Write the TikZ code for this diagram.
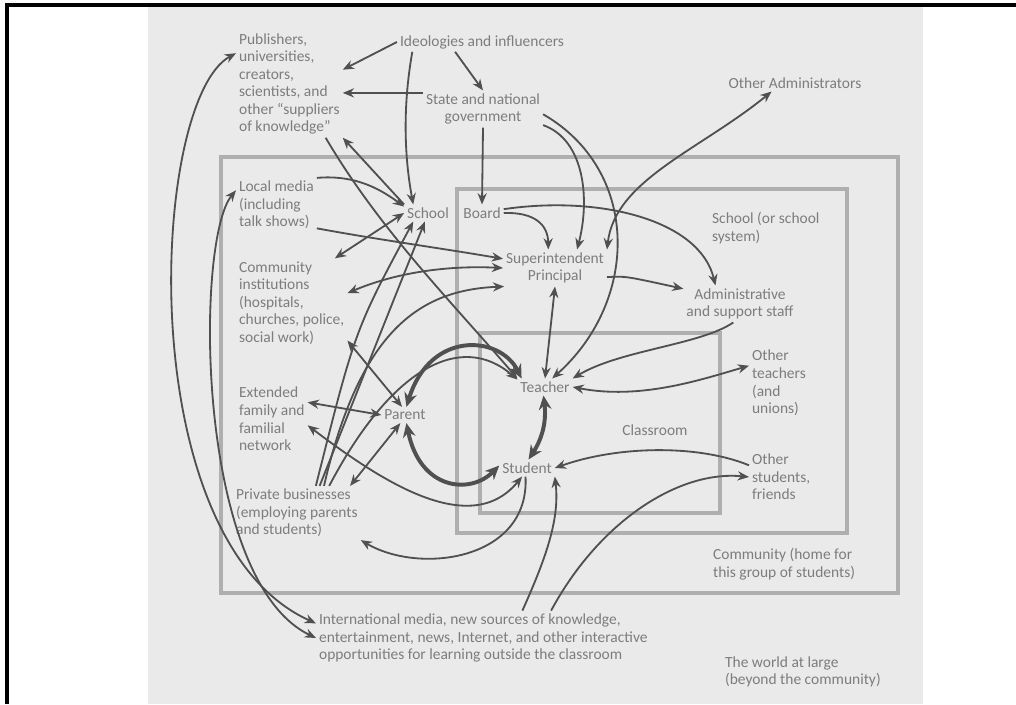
\documentclass[tikz,border=0pt]{standalone}
\usepackage{fontspec}
\setmainfont{Carlito}
\usepackage{tikz}
\usetikzlibrary{positioning}
\usetikzlibrary{arrows.meta}
\definecolor{inkgray}{RGB}{80,80,80}
\definecolor{textgray}{RGB}{125,125,125}
\definecolor{boxgray}{RGB}{175,175,175}
\definecolor{paper}{RGB}{234,234,234}
\tikzset{
  % text of the diagram
  lbl/.style={text=textgray, font=\fontsize{11}{12.5}\selectfont, inner sep=2pt, align=left},
  lblc/.style={lbl, align=center},
  % nested settings
  zone/.style={draw=boxgray, line width=2.2pt},
  % influences
  arr/.style={draw=inkgray, line width=1.3pt, -{Stealth[length=8pt,width=6.5pt]}},
  twoway/.style={arr, {Stealth[length=8pt,width=6.5pt]}-{Stealth[length=8pt,width=6.5pt]}},
  strong/.style={draw=inkgray, line width=2.8pt, {Stealth[length=10pt,width=9pt]}-{Stealth[length=10pt,width=9pt]}},
}

\begin{document}
\begin{tikzpicture}[x={(0.025cm,0)}, y={(0,-0.025cm)}]
      \useasboundingbox (0,0) rectangle (1016,704);
      \fill[paper] (148,5) rectangle (923,704);
      \draw[line width=2.5pt] (7,704) -- (7,5) -- (1016,5);

      \draw[zone] (221,157) rectangle (898,593);
      \draw[zone] (457,189) rectangle (847,533);
      \draw[zone] (480,333) rectangle (720,513);

      \node[lbl, anchor=west] (pub) at (236,84) {Publishers,\\universities,\\creators,\\scientists, and\\other ``suppliers\\of knowledge''};
      \node[lblc] (ideo) at (482,42) {Ideologies and influencers};
      \node[lblc] (state) at (483,109) {State and national\\government};
      \node[lblc] (otheradm) at (795,83) {Other Administrators};
      \node[lbl, anchor=west] (local) at (236,205) {Local media\\(including\\talk shows)};
      \node[lblc] (school) at (428,213) {School};
      \node[lblc] (board) at (482,213) {Board};
      \node[lbl, anchor=west] (schoollbl) at (709,228) {School (or school\\system)};
      \node[lblc] (super) at (555,268) {Superintendent\\Principal};
      \node[lblc] (admin) at (740,304) {Administrative\\and support staff};
      \node[lbl, anchor=west] (comm) at (236,303) {Community\\institutions\\(hospitals,\\churches, police,\\social work)};
      \node[lblc] (teacher) at (545,387) {Teacher};
      \node[lbl, anchor=west] (othteach) at (749,383) {Other\\teachers\\(and\\unions)};
      \node[lbl, anchor=west] (extended) at (236,419) {Extended\\family and\\familial\\network};
      \node[lblc] (parent) at (405,415) {Parent};
      \node[lblc] (classlbl) at (655,430) {Classroom};
      \node[lblc] (student) at (527,468) {Student};
      \node[lbl, anchor=west] (othstud) at (749,477) {Other\\students,\\friends};
      \node[lbl, anchor=west] (private) at (233,513) {Private businesses\\(employing parents\\and students)};
      \node[lbl, anchor=west] (commlbl) at (710,564) {Community (home for\\this group of students)};
      \node[lbl, anchor=west] (intl) at (316,638) {International media, new sources of knowledge,\\entertainment, news, Internet, and other interactive\\opportunities for learning outside the classroom};
      \node[lbl, anchor=west] (world) at (722,672) {The world at large\\(beyond the community)};

      % outside the community
      \draw[twoway] (pub.150) .. controls (150,100) and (130,540) .. (intl.175);
      \draw[twoway] (local.160) .. controls (195,240) and (195,580) .. (intl.west);
      \draw[arr] (ideo.180) -- (pub.15);
      \draw[arr] (ideo.200) -- (state.north);
      \draw[arr] (ideo.188) .. controls (402,110) and (405,160) .. (school.150);
      \draw[arr] (state.165) -- (pub.east |- state.165);
      \draw[arr] (state.south) -- (board.north);
      \draw[arr] (state.-15) .. controls (585,140) and (590,200) .. (super.40);
      \draw[arr] (state.-5) .. controls (640,170) and (640,300) .. (teacher.50);
      \draw[twoway] (super.north east) .. controls (615,180) and (700,150) .. (otheradm.200);

      % school system
      \draw[arr] (board.east) .. controls (535,212) and (548,225) .. (super.110);
      \draw[arr] (board.10) .. controls (600,195) and (700,220) .. (admin.143);
      \draw[arr] (super.-10) .. controls (625,276) .. (admin.165);
      \draw[twoway] (super.south) -- (teacher.north);
      \draw[arr] (admin.250) .. controls (700,345) and (620,350) .. (teacher.north east);
      \draw[twoway] (teacher.east) .. controls (640,400) and (700,380) .. (othteach.150);
      \draw[strong] (parent.80) .. controls (430,330) and (500,335) .. (teacher.160);
      \draw[strong] (parent.-80) .. controls (420,490) and (470,495) .. (student.175);
      \draw[strong] (teacher.-100) to[bend left=20] (student.80);
      \draw[arr] (othstud.160) .. controls (700,445) and (620,445) .. (student.east);
      \draw[arr] (intl.22) .. controls (600,520) and (680,470) .. (othstud.west);
      \draw[arr] (intl.35) .. controls (545,560) and (560,520) .. (student.south east);
      \draw[arr] (student.-100) .. controls (530,560) and (420,575) .. (private.south east);

      % community
      \draw[twoway] (extended.-10) .. controls (380,480) and (470,540) .. (student.-120);
      \draw[twoway] (extended.25) -- (parent.west);
      \draw[twoway] (parent.-120) -- (private.27);
      \draw[twoway] (comm.-34) -- (parent.110);
      \draw[twoway] (comm.46) -- (school.west);
      \draw[twoway] (comm.10) .. controls (390,275) and (440,265) .. (super.west);
      \draw[arr] (local.north east) .. controls (350,175) and (375,185) .. (school.165);
      \draw[arr] (local.-30) .. controls (380,240) and (440,248) .. (super.170);
      \draw[arr] (school.north west) -- (pub.south east);
      \draw[arr] (pub.-56) .. controls (380,230) and (450,300) .. (teacher.north west);
      \draw[arr] (private.50) -- (school.-110);
      \draw[arr] (private.55) .. controls (355,330) .. (school.-150);
      \draw[arr] (private.45) .. controls (360,330) and (420,290) .. (super.200);
      \draw[arr] (private.40) .. controls (390,370) and (460,330) .. (teacher.165);
\end{tikzpicture}
\end{document}
